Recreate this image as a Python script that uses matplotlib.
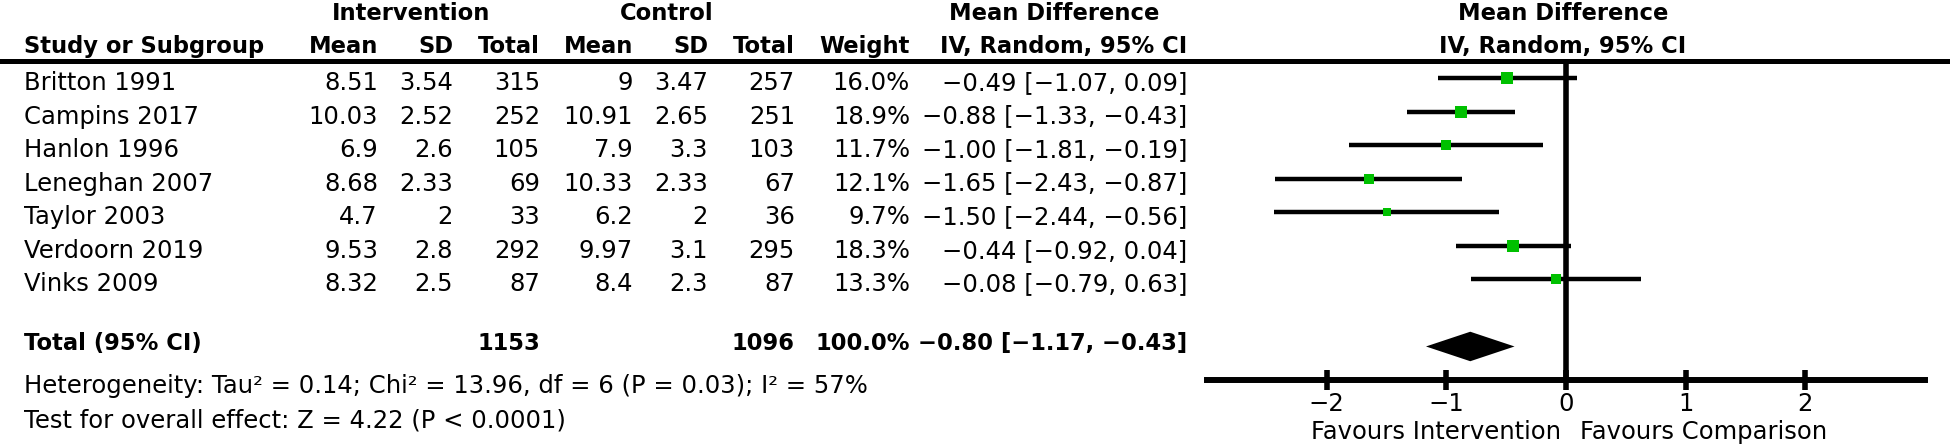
import matplotlib
matplotlib.use("Agg")
import matplotlib.pyplot as plt
from matplotlib.lines import Line2D
import matplotlib.transforms as mtrans

# data
studies = ["Britton 1991", "Campins 2017", "Hanlon 1996", "Leneghan 2007",
           "Taylor 2003", "Verdoorn 2019", "Vinks 2009"]
int_mean = [8.51, 10.03, 6.9, 8.68, 4.7, 9.53, 8.32]
int_sd = [3.54, 2.52, 2.6, 2.33, 2, 2.8, 2.5]
int_n = [315, 252, 105, 69, 33, 292, 87]
ctl_mean = [9, 10.91, 7.9, 10.33, 6.2, 9.97, 8.4]
ctl_sd = [3.47, 2.65, 3.3, 2.33, 2, 3.1, 2.3]
ctl_n = [257, 251, 103, 67, 36, 295, 87]
weight = [16.0, 18.9, 11.7, 12.1, 9.7, 18.3, 13.3]
md = [-0.49, -0.88, -1.00, -1.65, -1.50, -0.44, -0.08]
md_lo = [-1.07, -1.33, -1.81, -2.43, -2.44, -0.92, -0.79]
md_hi = [0.09, -0.43, -0.19, -0.87, -0.56, 0.04, 0.63]

total_int_n = 1153
total_ctl_n = 1096
total_weight = 100.0
total_md = -0.80
total_lo = -1.17
total_hi = -0.43

het_text = "Heterogeneity: Tau² = 0.14; Chi² = 13.96, df = 6 (P = 0.03); I² = 57%"
test_text = "Test for overall effect: Z = 4.22 (P < 0.0001)"
xticks = [-2, -1, 0, 1, 2]

plt.rcParams['font.family'] = ['DejaVu Sans']
FS = 17.5
FSB = 16.3
W, H = 1950, 444

fig = plt.figure(figsize=(W / 100, H / 100), dpi=100)
ax = fig.add_axes([1207 / W, 1 - 380 / H, (1925 - 1207) / W, (380 - 61.5) / H])
ax.set_xlim(-3, 3)
ax.set_ylim(9, -0.5)

green = "#00c000"
for i in range(len(studies)):
    ax.plot([md_lo[i], md_hi[i]], [i, i], color="black", lw=3.2, solid_capstyle="butt", zorder=2)
    ax.plot(md[i], i, marker="s", color=green, markersize=2.05 * weight[i] ** 0.5,
            markeredgewidth=0, zorder=3)

# pooled diamond
yt = 8
dh = 0.44
ax.fill([total_lo, total_md, total_hi, total_md], [yt, yt - dh, yt, yt + dh],
        color="black", lw=0, zorder=3)

ax.axvline(0, color="black", lw=4, zorder=1)

for s in ["top", "left", "right"]:
    ax.spines[s].set_visible(False)
ax.spines["bottom"].set_linewidth(4.3)
ax.set_yticks([])
ax.set_xticks(xticks)
ax.set_xticklabels([str(t).replace("-", "−") for t in xticks])
ax.tick_params(axis="x", direction="inout", length=15, width=4, labelsize=FS, pad=1)

ax.text(-0.04, 10.75, "Favours Intervention", ha="right", va="baseline", fontsize=FS, clip_on=False)
ax.text(0.12, 10.75, "Favours Comparison", ha="left", va="baseline", fontsize=FS, clip_on=False)

# table text: x in figure pixels, y in row units of the forest axes
tr = mtrans.blended_transform_factory(mtrans.Affine2D().scale(1 / W, 1) + fig.transFigure, ax.transData)


def put(x, y, s, ha="right", bold=False):
    fig.text(x, y, s, transform=tr, ha=ha, va="baseline",
             fontsize=FSB if bold else FS,
             fontweight="bold" if bold else "normal", clip_on=False)


def fmt_ci(m, lo, hi):
    return f"{m:.2f} [{lo:.2f}, {hi:.2f}]".replace("-", "−")


# headers
put(411, -1.75, "Intervention", ha="center", bold=True)
put(667, -1.75, "Control", ha="center", bold=True)
put(1054, -1.75, "Mean Difference", ha="center", bold=True)
put(1563, -1.75, "Mean Difference", ha="center", bold=True)
hy = -0.75
put(24, hy, "Study or Subgroup", ha="left", bold=True)
put(378, hy, "Mean", bold=True)
put(453, hy, "SD", bold=True)
put(540, hy, "Total", bold=True)
put(633, hy, "Mean", bold=True)
put(708, hy, "SD", bold=True)
put(795, hy, "Total", bold=True)
put(910, hy, "Weight", bold=True)
put(1187, hy, "IV, Random, 95% CI", bold=True)
put(1563, hy, "IV, Random, 95% CI", ha="center", bold=True)

fig.add_artist(Line2D([0, 1], [1 - 61.5 / H, 1 - 61.5 / H], color="black", lw=3.6,
                      transform=fig.transFigure))

for i, name in enumerate(studies):
    y = i + 0.35
    put(24, y, name, ha="left")
    put(378, y, f"{int_mean[i]:g}")
    put(453, y, f"{int_sd[i]:g}")
    put(540, y, f"{int_n[i]}")
    put(633, y, f"{ctl_mean[i]:g}")
    put(708, y, f"{ctl_sd[i]:g}")
    put(795, y, f"{ctl_n[i]}")
    put(910, y, f"{weight[i]:.1f}%")
    put(1187, y, fmt_ci(md[i], md_lo[i], md_hi[i]))

ty = 8.1
put(24, ty, "Total (95% CI)", ha="left", bold=True)
put(540, ty, f"{total_int_n}", bold=True)
put(795, ty, f"{total_ctl_n}", bold=True)
put(910, ty, f"{total_weight:.1f}%", bold=True)
put(1187, ty, fmt_ci(total_md, total_lo, total_hi), bold=True)

put(24, 9.38, het_text, ha="left")
put(24, 10.42, test_text, ha="left")

fig.savefig("out.png", dpi=100)
